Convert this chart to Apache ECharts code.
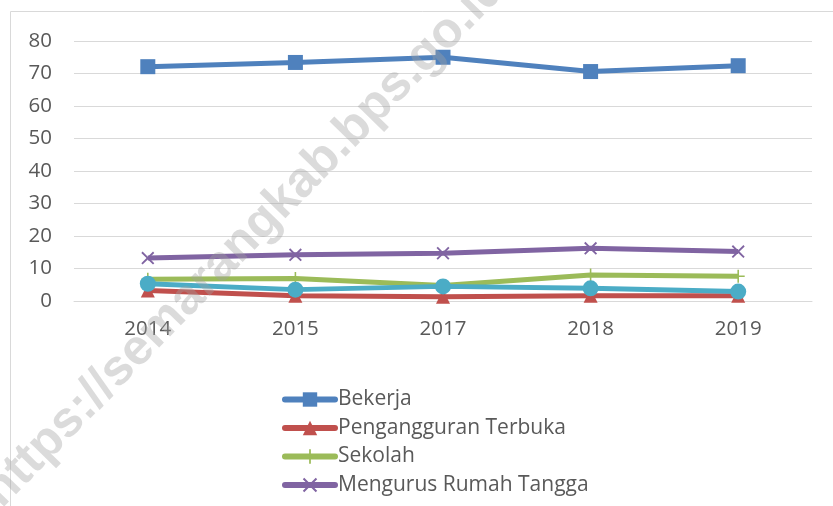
<!DOCTYPE html>
<html>
<head>
<meta charset="utf-8">
<script src="https://cdn.jsdelivr.net/npm/echarts@6/dist/echarts.min.js"></script>
<style>
  html,body{margin:0;padding:0;background:#fff;}
  #chart{width:833px;height:506px;}
</style>
</head>
<body>
<div id="chart"></div>
<script>
  // data
  var years = ['2014', '2015', '2017', '2018', '2019'];
  var yTicks = [0, 10, 20, 30, 40, 50, 60, 70, 80];
  var bekerja = [72.1, 73.4, 75.0, 70.6, 72.4];
  var pengangguran = [3.2, 1.6, 1.3, 1.6, 1.6];
  var sekolah = [6.7, 6.9, 4.8, 8.0, 7.6];
  var mengurus = [13.2, 14.2, 14.7, 16.2, 15.2];
  var lainnya = [5.3, 3.5, 4.5, 3.9, 2.9];
  var names = ['Bekerja', 'Pengangguran Terbuka', 'Sekolah', 'Mengurus Rumah Tangga', 'Lainnya'];

  var font = '"Open Sans", sans-serif';
  var xMark = 'path://M0,1L1,0L5,4L9,0L10,1L6,5L10,9L9,10L5,6L1,10L0,9L4,5Z';
  var plusMark = 'path://M4.4,0H5.6V4.4H10V5.6H5.6V10H4.4V5.6H0V4.4H4.4Z';

  function makeSeries(name, data, color, symbol, size) {
    return {
      name: name,
      type: 'line',
      data: data,
      symbol: symbol,
      symbolSize: size,
      showAllSymbol: true,
      lineStyle: { color: color, width: 5 },
      itemStyle: { color: color },
      emphasis: { disabled: true },
      z: 3
    };
  }

  var myChart = echarts.init(document.getElementById('chart'));
  var option = {
    animation: false,
    graphic: [
      {
        type: 'rect',
        shape: { x: 10.5, y: 11.5, width: 900, height: 600 },
        style: { fill: 'none', stroke: '#d9d9d9', lineWidth: 1 },
        z: 0
      },
      {
        // watermark
        type: 'text',
        x: 245, y: 240,
        rotation: 45.7 * Math.PI / 180,
        style: {
          text: 'https://semarangkab.bps.go.id',
          font: 'bold 50px "Liberation Sans", sans-serif',
          fill: 'rgba(160,160,160,0.38)',
          align: 'center',
          verticalAlign: 'middle'
        },
        z: 100
      }
    ],
    legend: {
      orient: 'vertical',
      left: 277,
      top: 384,
      itemWidth: 50,
      itemHeight: 18,
      itemGap: 7.5,
      lineStyle: { width: 6, cap: 'round' },
      textStyle: { color: '#595959', fontSize: 21, lineHeight: 20, fontFamily: font, padding: [0, 0, 0, -2] },
      data: names.slice(0, 4)
    },
    grid: { left: 74, right: 21, top: 41, bottom: 205 },
    xAxis: {
      type: 'category',
      data: years,
      boundaryGap: true,
      axisLine: { lineStyle: { color: '#d9d9d9', width: 1 } },
      axisTick: { show: false },
      axisLabel: { color: '#595959', fontSize: 20.5, fontFamily: font, margin: 18 }
    },
    yAxis: {
      type: 'value',
      min: yTicks[0],
      max: yTicks[yTicks.length - 1],
      interval: 10,
      axisLine: { show: false },
      axisTick: { show: false },
      axisLabel: { color: '#595959', fontSize: 20.5, fontFamily: font, margin: 22 },
      splitLine: { lineStyle: { color: '#d9d9d9', width: 1 } }
    },
    series: [
      makeSeries(names[0], bekerja, '#4f81bd', 'rect', 15),
      makeSeries(names[1], pengangguran, '#c0504d', 'triangle', 14),
      makeSeries(names[2], sekolah, '#9bbb59', plusMark, 13),
      makeSeries(names[3], mengurus, '#8064a2', xMark, 13),
      makeSeries(names[4], lainnya, '#4bacc6', 'circle', 16)
    ]
  };
  myChart.setOption(option);
</script>
</body>
</html>
